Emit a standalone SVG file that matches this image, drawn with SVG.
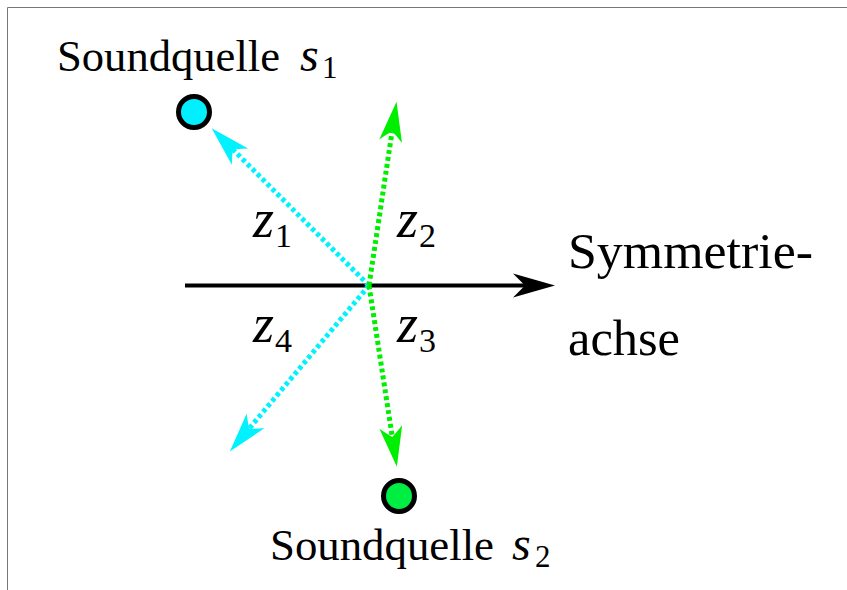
<svg xmlns="http://www.w3.org/2000/svg" width="847" height="590" viewBox="0 0 847 590">
<style>
text{font-family:"Liberation Serif","Times New Roman",serif;fill:#000}
.i{font-style:italic}
.dc{fill:none;stroke:#00F2FF;stroke-width:5;stroke-dasharray:4 3}
.dg{fill:none;stroke:#00EE00;stroke-width:5;stroke-dasharray:4 3}
.src{stroke:#000;stroke-width:5}
</style>
<defs>
<marker id="ac" markerUnits="userSpaceOnUse" markerWidth="80" markerHeight="40" viewBox="-20 -20 80 40" refX="0" refY="0" orient="auto" overflow="visible"><path d="M30,0 L-10,-11.5 Q-3,-4 0,0 Q-3,4 -10,11.5 Z" fill="#00F2FF"/></marker>
<marker id="ag" markerUnits="userSpaceOnUse" markerWidth="80" markerHeight="40" viewBox="-20 -20 80 40" refX="0" refY="0" orient="auto" overflow="visible"><path d="M30,0 L-10,-11.5 Q-3,-4 0,0 Q-3,4 -10,11.5 Z" fill="#00EE00"/></marker>
<marker id="ak" markerUnits="userSpaceOnUse" markerWidth="80" markerHeight="40" viewBox="-20 -20 80 40" refX="0" refY="0" orient="auto" overflow="visible"><path d="M30,0 L-12,-12 Q-4,-4 0,0 Q-4,4 -12,12 Z" fill="#000"/></marker>
</defs>
<path d="M7.5,590 V7.5 H847" fill="none" stroke="#777" stroke-width="1"/>
<g id="connectors">
<line x1="185" y1="285.5" x2="525" y2="285.5" stroke="#000" stroke-width="4" marker-end="url(#ak)"/>
<line class="dc" x1="369" y1="285.5" x2="232.9" y2="149.5" marker-end="url(#ac)"/>
<line class="dc" x1="369" y1="285.5" x2="249.1" y2="428.6" marker-end="url(#ac)"/>
<line class="dg" x1="369" y1="285.5" x2="392.1" y2="131.3" marker-end="url(#ag)"/>
<line class="dg" x1="369" y1="285.5" x2="392.3" y2="437" marker-end="url(#ag)"/>
</g>
<g id="s1">
<circle class="src" cx="194" cy="112" r="15.5" fill="#00F0FF"/>
<text x="57" y="71" font-size="44" textLength="223" lengthAdjust="spacingAndGlyphs">Soundquelle</text>
<text class="i" x="300" y="71" font-size="48">s</text>
<text x="322" y="78" font-size="31">1</text>
</g>
<g id="s2">
<circle class="src" cx="399" cy="496" r="15.5" fill="#00EE44"/>
<text x="270" y="560" font-size="44" textLength="224" lengthAdjust="spacingAndGlyphs">Soundquelle</text>
<text class="i" x="512" y="560" font-size="48">s</text>
<text x="535" y="567" font-size="31">2</text>
</g>
<g id="axis-label">
<text x="568" y="268" font-size="50" textLength="245" lengthAdjust="spacingAndGlyphs">Symmetrie-</text>
<text x="568" y="355" font-size="50" textLength="112" lengthAdjust="spacingAndGlyphs">achse</text>
</g>
<g id="z-labels">
<text class="i" x="253" y="237" font-size="54">z</text>
<text x="275" y="247" font-size="34">1</text>
<text class="i" x="397" y="237" font-size="54">z</text>
<text x="419" y="247" font-size="34">2</text>
<text class="i" x="397" y="342" font-size="54">z</text>
<text x="419" y="352" font-size="34">3</text>
<text class="i" x="253" y="342" font-size="54">z</text>
<text x="275" y="352" font-size="34">4</text>
</g>
</svg>
